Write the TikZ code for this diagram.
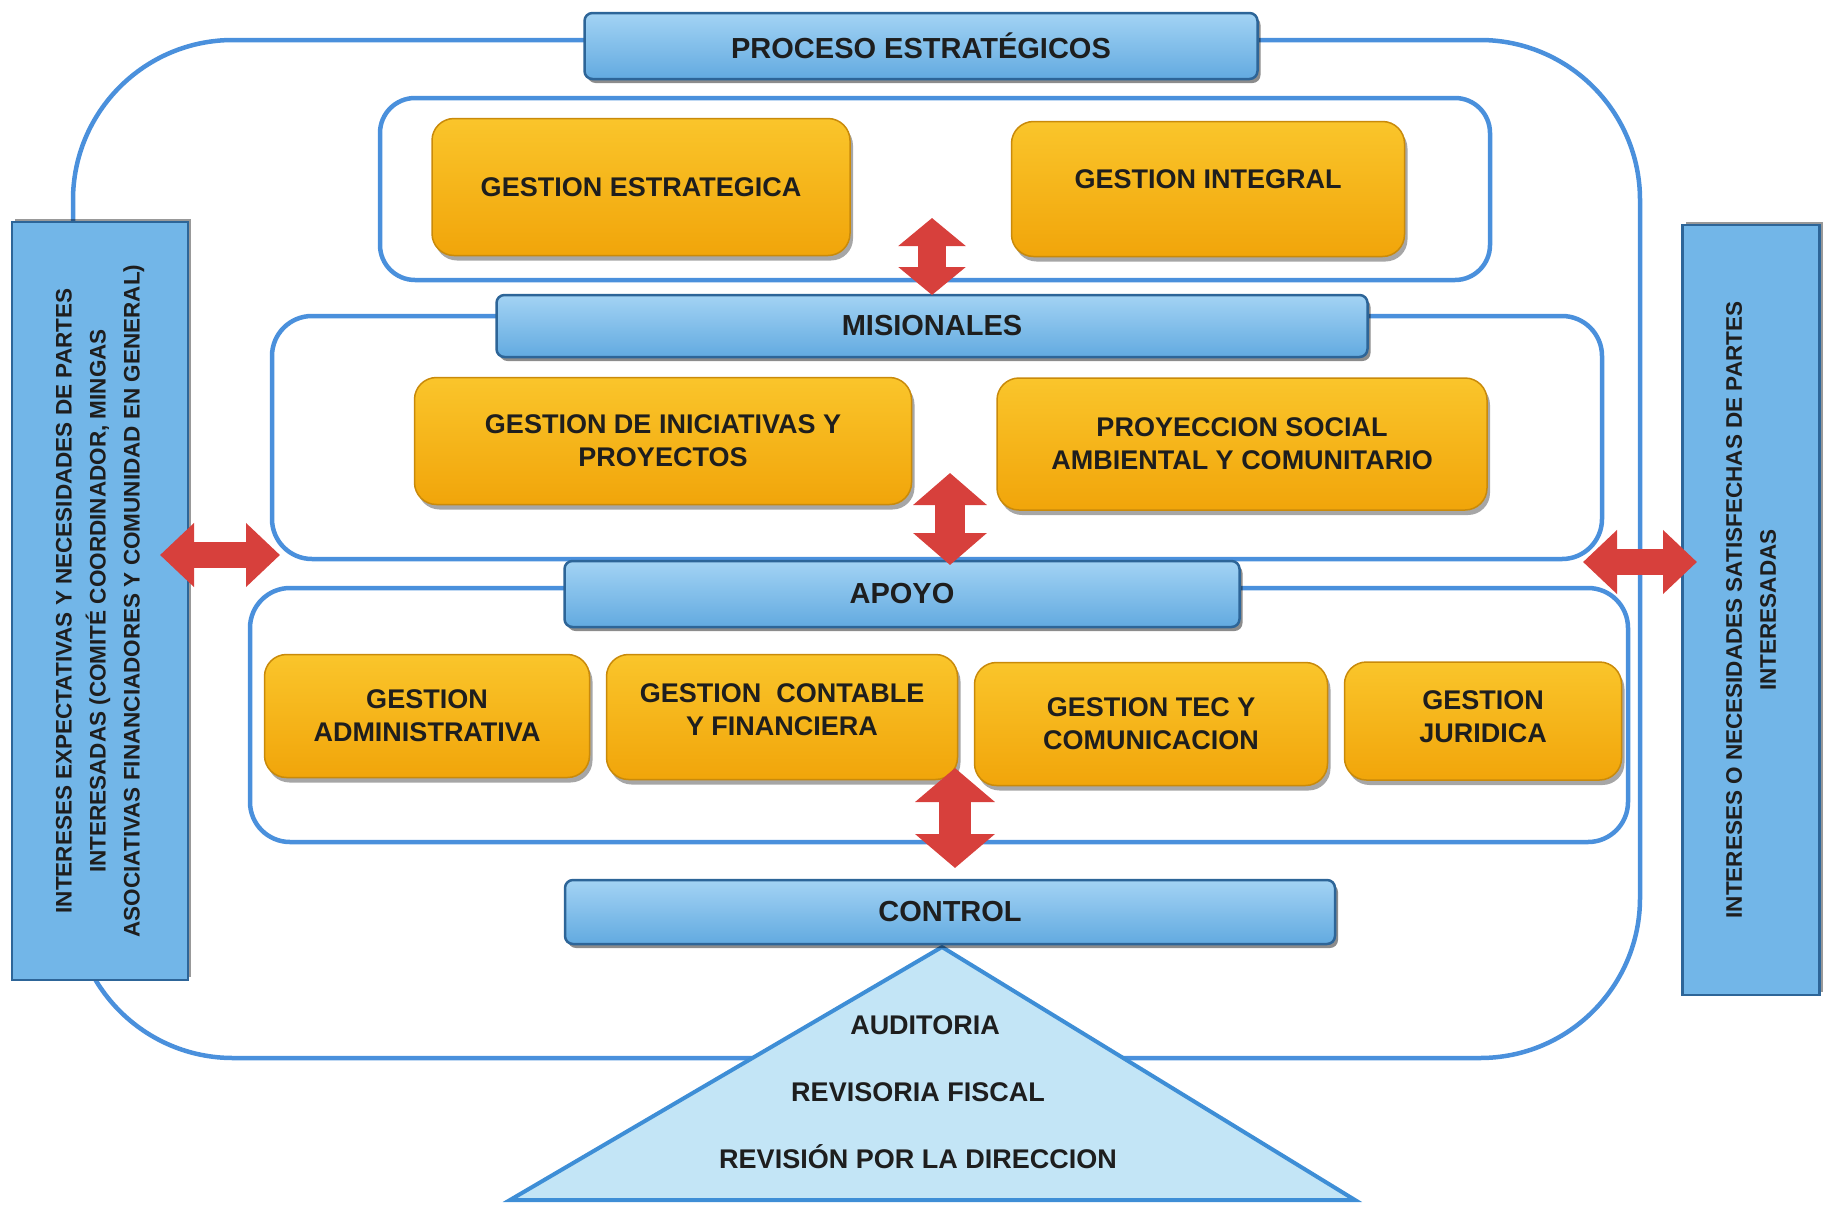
\documentclass[tikz,border=0pt]{standalone}
\usepackage{fontspec}
\setmainfont{Liberation Sans}
\usetikzlibrary{shadows,arrows.meta}
\definecolor{cline}{HTML}{4A90DC}
\definecolor{hdrtop}{HTML}{A3D3F4}
\definecolor{hdrbot}{HTML}{62AAE0}
\definecolor{hdrdraw}{HTML}{2D6598}
\definecolor{sidefill}{HTML}{72B6E8}
\definecolor{ortop}{HTML}{FAC52B}
\definecolor{orbot}{HTML}{F1A50A}
\definecolor{ordraw}{HTML}{C98A0A}
\definecolor{trifill}{HTML}{C3E5F6}
\definecolor{tridraw}{HTML}{3E8ED6}
\definecolor{txt}{HTML}{1E1E1E}
\definecolor{arrred}{HTML}{D7403C}
\begin{document}
\begin{tikzpicture}[x=1pt,y=-1pt,
  container/.style={draw=cline, line width=4.5pt, rounded corners=#1},
  hdr/.style={draw=hdrdraw, line width=2.5pt, rounded corners=8pt,
    top color=hdrtop, bottom color=hdrbot,
    drop shadow={shadow xshift=3pt, shadow yshift=-4pt, fill=black, opacity=0.45},
    font=\bfseries\fontsize{29}{34}\selectfont, text=txt, inner sep=0pt},
  orb/.style={draw=ordraw, line width=1.5pt, rounded corners=22pt,
    top color=ortop, bottom color=orbot,
    drop shadow={shadow xshift=3pt, shadow yshift=-5pt, fill=black, opacity=0.35},
    font=\bfseries\fontsize{27}{33}\selectfont, text=txt, align=center, inner sep=0pt},
  sideb/.style={draw=hdrdraw, line width=2.5pt, fill=sidefill, rotate=90,
    drop shadow={shadow xshift=3pt, shadow yshift=3pt, fill=black, opacity=0.4},
    font=\bfseries\fontsize{22.5}{34}\selectfont, text=txt, align=center, inner sep=0pt},
  tritxt/.style={font=\bfseries\fontsize{27}{32}\selectfont, text=txt},
  redarr/.style n args={3}{draw=arrred, line width=#1,
    arrows={Triangle[length=#2,width=#3]-Triangle[length=#2,width=#3]}}
]
\useasboundingbox (0,0) rectangle (1823,1205);

% outer frame and containers
\draw[container=160pt] (73,40) rectangle (1640,1058);
\draw[container=35pt] (380,98) rectangle (1490,280);
\draw[container=40pt] (272,316) rectangle (1602,559);
\draw[container=40pt] (250,588) rectangle (1628,842);

% triangle
\draw[fill=trifill, draw=tridraw, line width=4pt, line join=miter]
  (942,947) -- (1355,1200) -- (510,1200) -- cycle;
\node[tritxt] (aud) at (925,1025) {AUDITORIA};
\node[tritxt] (rev) at (918,1092) {REVISORIA FISCAL};
\node[tritxt] (dir) at (918,1157) {REVISIÓN POR LA DIRECCION};

% headers
\node[hdr, minimum width=673pt, minimum height=66pt] (proc) at (921,46) {PROCESO ESTRATÉGICOS};
\node[hdr, minimum width=871pt, minimum height=62pt] (mis) at (932,326) {MISIONALES};
\node[hdr, minimum width=675pt, minimum height=66pt] (apo) at (902,594) {APOYO};
\node[hdr, minimum width=770pt, minimum height=64pt] (ctl) at (950,912) {CONTROL};

% orange boxes
\node[orb, minimum width=418pt, minimum height=137pt] (gest) at (641,187) {GESTION ESTRATEGICA};
\node[orb, minimum width=393pt, minimum height=135pt, text depth=20pt] (gint) at (1208,189) {GESTION INTEGRAL};
\node[orb, minimum width=497pt, minimum height=127pt] (gini) at (663,441) {GESTION DE INICIATIVAS Y\\PROYECTOS};
\node[orb, minimum width=490pt, minimum height=132pt] (proy) at (1242,444) {PROYECCION SOCIAL\\AMBIENTAL Y COMUNITARIO};
\node[orb, minimum width=325pt, minimum height=123pt] (gadm) at (427,716) {GESTION\\ADMINISTRATIVA};
\node[orb, minimum width=351pt, minimum height=125pt, text depth=14pt] (gcon) at (782,717) {GESTION\ \ CONTABLE\\Y FINANCIERA};
\node[orb, minimum width=353pt, minimum height=123pt] (gtec) at (1151,724) {GESTION TEC Y\\COMUNICACION};
\node[orb, minimum width=277pt, minimum height=118pt, text depth=8pt] (gjur) at (1483,721) {GESTION\\JURIDICA};

% side boxes
\node[sideb, minimum width=758pt, minimum height=176pt] (lbox) at (100,601)
  {INTERESES EXPECTATIVAS Y NECESIDADES DE PARTES\\INTERESADAS (COMITÉ COORDINADOR, MINGAS\\ASOCIATIVAS FINANCIADORES Y COMUNIDAD EN GENERAL)};
\node[sideb, minimum width=770pt, minimum height=137pt] (rbox) at (1751,610)
  {INTERESES O NECESIDADES SATISFECHAS DE PARTES\\INTERESADAS};

% red double arrows
\coordinate (a1s) at (932,218); \coordinate (a1e) at (932,295);
\coordinate (a2s) at (950,473); \coordinate (a2e) at (950,565);
\coordinate (a3s) at (955,768); \coordinate (a3e) at (955,868);
\coordinate (a4s) at (160,555); \coordinate (a4e) at (280,555);
\coordinate (a5s) at (1583,562); \coordinate (a5e) at (1697,562);
\draw[redarr={28pt}{28pt}{66pt}] (a1s) -- (a1e);
\draw[redarr={30pt}{32pt}{72pt}] (a2s) -- (a2e);
\draw[redarr={32pt}{34pt}{78pt}] (a3s) -- (a3e);
\draw[redarr={26pt}{34pt}{62pt}] (a4s) -- (a4e);
\draw[redarr={26pt}{34pt}{62pt}] (a5s) -- (a5e);
\end{tikzpicture}
\end{document}
